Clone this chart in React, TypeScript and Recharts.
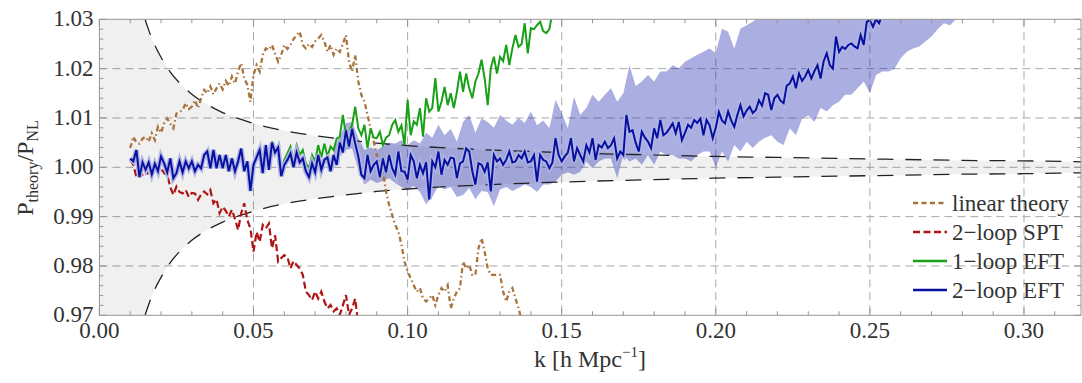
import React from 'react';
import { ComposedChart, Line, Area, XAxis, YAxis, CartesianGrid } from 'recharts';

// ---------- data ----------
const K_STEP = 0.001;

// 2-loop EFT (blue), k = 0.010 ... 0.256
const EFT2_K0 = 0.01;
const eft2Loop = [
  1.0018, 1.0012, 1.0035, 0.998, 1.001, 0.9995, 1.001, 0.9986, 1.0007, 0.9992,
  1.0022, 1.0008, 0.999, 1.0018, 0.9978, 0.9988, 1.0012, 0.999, 1.0012, 0.9998,
  1.0012, 0.9992, 1.0005, 0.9998, 1.0025, 1.0032, 0.9998, 1.0035, 0.9998, 1.0025,
  0.9998, 1.0025, 0.9992, 1.0018, 0.9992, 1.0012, 1.0038, 0.9992, 1.0012, 0.9952,
  1.0005, 1.002, 1.0035, 0.9988, 1.0045, 0.9995, 1.005, 1.003, 1.004, 0.9982,
  1.0005, 1.0015, 1.0028, 1.0, 1.003, 1.001, 1.0018, 0.9992, 0.998, 1.0008,
  0.999, 1.0025, 0.9995, 1.0015, 1.002, 0.9992, 1.0025, 1.0005, 1.005, 1.003,
  1.0075, 1.0042, 1.0078, 1.0048, 1.0022, 0.9985, 0.9978, 1.0025, 0.9992, 1.0005,
  1.0012, 0.998, 1.0018, 0.999, 1.0025, 0.9998, 0.9985, 1.0032, 0.9992, 0.9991,
  0.9975, 1.0025, 1.0012, 0.9978, 1.0005, 0.9988, 1.001, 0.9935, 1.0012, 1.0,
  1.0032, 0.9985, 1.0015, 1.0005, 1.002, 1.0018, 0.9978, 1.0008, 1.0012, 1.0038,
  1.0032, 0.9992, 0.9965, 1.0008, 1.0005, 0.9991, 1.001, 0.9951, 1.0025, 1.0012,
  1.0018, 1.0005, 1.0015, 1.0032, 1.001, 1.0012, 1.0025, 1.0018, 1.0032, 1.001,
  1.0012, 1.0025, 0.9971, 1.0025, 1.0015, 1.0012, 0.9998, 1.001, 1.0059, 1.0025,
  1.0012, 1.0022, 1.003, 1.0059, 1.0012, 1.0039, 1.0025, 1.0012, 1.0045, 1.003,
  1.0059, 1.0015, 1.0045, 1.004, 1.0052, 1.0039, 1.0045, 1.0059, 1.0018, 1.0032,
  1.0025, 1.0106, 1.0072, 1.0075, 1.005, 1.0032, 1.0072, 1.006, 1.0052, 1.0039,
  1.0079, 1.0059, 1.0096, 1.0065, 1.007, 1.0079, 1.0089, 1.0069, 1.0092, 1.0055,
  1.007, 1.0086, 1.008, 1.0096, 1.009, 1.0099, 1.0065, 1.0096, 1.0085, 1.0059,
  1.008, 1.0112, 1.0095, 1.0089, 1.0113, 1.0095, 1.0082, 1.0106, 1.0126, 1.0103,
  1.0115, 1.0123, 1.011, 1.0116, 1.0136, 1.0125, 1.015, 1.0147, 1.0116, 1.014,
  1.0147, 1.0135, 1.013, 1.0165, 1.017, 1.0184, 1.016, 1.019, 1.0175, 1.0184,
  1.0197, 1.018, 1.0195, 1.0207, 1.018, 1.0215, 1.0231, 1.0207, 1.02, 1.0265,
  1.0234, 1.0244, 1.024, 1.0248, 1.0251, 1.0245, 1.0241, 1.0268, 1.0248, 1.0295,
  1.0298, 1.0285, 1.03, 1.0292, 1.031, 1.033, 1.0345,
];

// 1-loop EFT (green), k = 0.054 ... 0.148
const EFT1_K0 = 0.054;
const eft1Loop = [
  1.0045, 0.9998, 1.0052, 1.0033, 1.0045, 0.999, 1.0015, 1.0028, 1.0042, 1.0015,
  1.0045, 1.0025, 1.0035, 1.0008, 0.9998, 1.0025, 1.0012, 1.0045, 1.002, 1.0048,
  1.0022, 1.0042, 1.0035, 1.0058, 1.0062, 1.0106, 1.0065, 1.0072, 1.0086, 1.0123,
  1.0079, 1.0065, 1.0086, 1.0039, 1.0079, 1.006, 1.0059, 1.0072, 1.0045, 1.006,
  1.0065, 1.0086, 1.0096, 1.0072, 1.0085, 1.0045, 1.0137, 1.0065, 1.0093, 1.0086,
  1.012, 1.0062, 1.014, 1.0113, 1.012, 1.0181, 1.0113, 1.0133, 1.0163, 1.0126,
  1.015, 1.012, 1.0153, 1.0194, 1.0153, 1.019, 1.016, 1.014, 1.0174, 1.019,
  1.0218, 1.018, 1.0126, 1.0201, 1.0224, 1.019, 1.0224, 1.0215, 1.0248, 1.0207,
  1.0241, 1.0268, 1.0244, 1.025, 1.0292, 1.0231, 1.0282, 1.028, 1.0288, 1.0295,
  1.0276, 1.0272, 1.028, 1.0315, 1.033,
];

// 2-loop SPT (red), k = 0.010 ... 0.084
const SPT_K0 = 0.01;
const spt2Loop = [
  1.0015, 1.0005, 0.9981, 0.999, 0.9985, 0.9995, 0.9982, 0.9981, 0.9995, 1.0005,
  0.9998, 0.9988, 0.9985, 0.996, 0.9944, 0.9961, 0.995, 0.9947, 0.9954, 0.994,
  0.9948, 0.9947, 0.9934, 0.9945, 0.9951, 0.9945, 0.9954, 0.9927, 0.9935, 0.9907,
  0.992, 0.9912, 0.99, 0.9914, 0.9895, 0.9873, 0.9907, 0.9927, 0.9893, 0.9876,
  0.9829, 0.9869, 0.9849, 0.9883, 0.9876, 0.9886, 0.9836, 0.9862, 0.9809, 0.9816,
  0.9822, 0.9818, 0.9795, 0.981, 0.9802, 0.9795, 0.9782, 0.9748, 0.9741, 0.9731,
  0.9748, 0.9734, 0.9748, 0.9728, 0.9714, 0.9721, 0.9708, 0.9714, 0.9701, 0.972,
  0.9741, 0.9701, 0.9714, 0.9734, 0.968,
];

// linear theory (brown), k = 0.010 ... 0.137
const LIN_K0 = 0.01;
const linearTheory = [
  1.0039, 1.0062, 1.005, 1.0048, 1.0058, 1.0062, 1.0052, 1.0069, 1.0055, 1.0082,
  1.007, 1.0089, 1.0099, 1.0089, 1.0079, 1.0109, 1.0112, 1.0116, 1.013, 1.0118,
  1.0123, 1.0136, 1.012, 1.014, 1.0157, 1.015, 1.0164, 1.0148, 1.016, 1.017,
  1.0158, 1.0175, 1.0165, 1.0184, 1.017, 1.0195, 1.0211, 1.018, 1.0167, 1.0133,
  1.0187, 1.0207, 1.0194, 1.0228, 1.0241, 1.0238, 1.0248, 1.023, 1.0214, 1.0228,
  1.0248, 1.024, 1.0248, 1.026, 1.0268, 1.0275, 1.0248, 1.0241, 1.025, 1.0244,
  1.0255, 1.0261, 1.0268, 1.0255, 1.0234, 1.0248, 1.0228, 1.0241, 1.0234, 1.025,
  1.0268, 1.0214, 1.0194, 1.0228, 1.0174, 1.0147, 1.0133, 1.0106, 1.0079, 1.0052,
  1.0025, 1.0012, 0.9991, 0.9951, 0.9924, 0.9903, 0.9883, 0.987, 0.9843, 0.9809,
  0.9789, 0.9775, 0.9761, 0.9748, 0.9755, 0.9734, 0.9728, 0.9734, 0.9741, 0.9721,
  0.9741, 0.9755, 0.9748, 0.9761, 0.9714, 0.9734, 0.9748, 0.9755, 0.9809, 0.9795,
  0.9802, 0.9782, 0.9782, 0.9836, 0.9856, 0.9829, 0.9795, 0.9782, 0.9782, 0.9782,
  0.9782, 0.9748, 0.9728, 0.9748, 0.9755, 0.9734, 0.9714, 0.969,
];

// 2-loop EFT uncertainty band, k = 0.076 ... 0.280 (step 0.002)
const BAND_K0 = 0.076;
const BAND_STEP = 0.002;
const bandHigh = [
  1.0035, 1.0062, 1.009, 1.0092, 1.006, 1.0035, 1.004, 1.0035, 1.0042, 1.005,
  1.0048, 1.0055, 1.0045, 1.0055, 1.0048, 1.007, 1.006, 1.0086, 1.0065, 1.0078,
  1.0052, 1.0092, 1.0106, 1.007, 1.0099, 1.0092, 1.008, 1.0106, 1.0095, 1.0086,
  1.01, 1.009, 1.0113, 1.0085, 1.0095, 1.0079, 1.0137, 1.011, 1.0079, 1.0143,
  1.0106, 1.012, 1.0147, 1.0133, 1.0147, 1.016, 1.0133, 1.015, 1.0207, 1.0165,
  1.0174, 1.0187, 1.0174, 1.0194, 1.0194, 1.0207, 1.0201, 1.0214, 1.0221, 1.0228,
  1.0234, 1.0241, 1.0231, 1.0281, 1.0275, 1.0241, 1.0281, 1.0288, 1.0295, 1.0305,
  1.032, 1.033, 1.034, 1.035, 1.036, 1.037, 1.038, 1.039, 1.04, 1.041,
  1.042, 1.043, 1.044, 1.045, 1.046, 1.047, 1.048, 1.049, 1.05, 1.051,
  1.052, 1.053, 1.054, 1.055, 1.056, 1.057, 1.058, 1.059, 1.06, 1.061,
  1.062, 1.063, 1.064,
];
const bandLow = [
  1.0, 1.0022, 1.0035, 1.0038, 0.9995, 0.9965, 0.9975, 0.9968, 0.9972, 0.9978,
  0.9968, 0.996, 0.9955, 0.9962, 0.995, 0.9925, 0.994, 0.9962, 0.9955, 0.996,
  0.994, 0.9944, 0.9958, 0.9935, 0.9952, 0.995, 0.9921, 0.9955, 0.996, 0.9952,
  0.9958, 0.9965, 0.996, 0.995, 0.9965, 0.9965, 0.9971, 0.9985, 0.999, 0.9985,
  0.9991, 1.0012, 0.9998, 1.0012, 1.0018, 1.0018, 0.9978, 1.0025, 1.0012, 1.0018,
  1.0005, 1.0025, 1.0005, 1.0032, 1.0025, 1.0025, 1.0018, 1.0018, 1.0012, 1.0025,
  1.0032, 1.0032, 1.0, 1.0032, 1.0012, 1.0045, 1.0032, 1.0052, 1.0039, 1.0052,
  1.006, 1.0065, 1.0052, 1.0045, 1.0079, 1.0065, 1.0099, 1.0105, 1.0092, 1.012,
  1.0113, 1.0126, 1.0133, 1.0147, 1.0147, 1.016, 1.0174, 1.015, 1.0187, 1.0194,
  1.0194, 1.02, 1.0221, 1.0234, 1.0241, 1.0245, 1.0255, 1.0265, 1.028, 1.0292,
  1.0288, 1.03, 1.032,
];

// sample-variance envelope (grey band with dashed edges)
const envK = [0, 0.001, 0.004, 0.007, 0.01, 0.012, 0.014, 0.016, 0.018, 0.02, 0.023, 0.026, 0.03, 0.035, 0.04, 0.045, 0.05, 0.06, 0.07, 0.08, 0.09, 0.1, 0.12, 0.14, 0.16, 0.18, 0.2, 0.22, 0.24, 0.26, 0.28, 0.3, 0.32];
const envUpper = [2.0, 1.4, 1.111, 1.0636, 1.0445, 1.0371, 1.0318, 1.0278, 1.0247, 1.0223, 1.0193, 1.0171, 1.0148, 1.0127, 1.0111, 1.0099, 1.0089, 1.0074, 1.0064, 1.0056, 1.0049, 1.0044, 1.0037, 1.0032, 1.0028, 1.0025, 1.0022, 1.002, 1.0018, 1.0016, 1.0014, 1.0013, 1.0011];
const envLower = [0.0, 0.6, 0.889, 0.9364, 0.9555, 0.9629, 0.9682, 0.9722, 0.9753, 0.9777, 0.9807, 0.9829, 0.9852, 0.9873, 0.9889, 0.9901, 0.9911, 0.9926, 0.9936, 0.9944, 0.9951, 0.9956, 0.9963, 0.9968, 0.9972, 0.9975, 0.9978, 0.998, 0.9982, 0.9984, 0.9986, 0.9987, 0.9989];

// axes
const X_MAX = 0.3185;
const xTicks = [0, 0.01, 0.02, 0.03, 0.04, 0.05, 0.06, 0.07, 0.08, 0.09, 0.1, 0.11, 0.12, 0.13, 0.14, 0.15, 0.16, 0.17, 0.18, 0.19, 0.2, 0.21, 0.22, 0.23, 0.24, 0.25, 0.26, 0.27, 0.28, 0.29, 0.3, 0.31];
const yTicks = [0.97, 0.972, 0.974, 0.976, 0.978, 0.98, 0.982, 0.984, 0.986, 0.988, 0.99, 0.992, 0.994, 0.996, 0.998, 1.0, 1.002, 1.004, 1.006, 1.008, 1.01, 1.012, 1.014, 1.016, 1.018, 1.02, 1.022, 1.024, 1.026, 1.028, 1.03];
const xGrid = [0.05, 0.1, 0.15, 0.2, 0.25, 0.3];
const yGrid = [0.98, 0.99, 1.0, 1.01, 1.02];

const legendItems = [
  { label: 'linear theory', color: '#a8743c', dash: '5 3.5' },
  { label: '2−loop SPT', color: '#b01515', dash: '7 3.5' },
  { label: '1−loop EFT', color: '#18a018', dash: undefined },
  { label: '2−loop EFT', color: '#0810a0', dash: undefined },
];

// ---------- build ----------
const series = (k0: number, step: number, vals: number[]) =>
  vals.map((v, i) => ({ k: +(k0 + i * step).toFixed(4), v }));

const blueData = series(EFT2_K0, K_STEP, eft2Loop);
const greenData = series(EFT1_K0, K_STEP, eft1Loop);
const redData = series(SPT_K0, K_STEP, spt2Loop);
const brownData = series(LIN_K0, K_STEP, linearTheory);
const bandData = bandLow.map((lo, i) => ({ k: +(BAND_K0 + i * BAND_STEP).toFixed(4), range: [lo, bandHigh[i]] }));
const envData = envK.map((k, i) => ({ k, up: envUpper[i], lo: envLower[i], range: [envLower[i], envUpper[i]] }));

const FONT = '"Liberation Serif", "DejaVu Serif", serif';
const TXT = '#333333';
const FRAME = '#959595';
const BROWN = '#a8743c';
const RED = '#b01515';
const GREEN = '#18a018';
const BLUE = '#0810a0';

const isMajorX = (v: number) => Math.abs(v * 20 - Math.round(v * 20)) < 1e-6;
const isMajorY = (v: number) => Math.abs(v * 100 - Math.round(v * 100)) < 1e-6;

const BottomTick = (p: any) => {
  const v = p.payload.value;
  const major = isMajorX(v);
  return (
    <g>
      <line x1={p.x} x2={p.x} y1={p.y} y2={p.y - (major ? 7 : 4)} stroke={FRAME} />
      {major && (
        <text x={p.x} y={p.y + 22.5} textAnchor="middle" fontFamily={FONT} fontSize={23} fill={TXT}>
          {v.toFixed(2)}
        </text>
      )}
    </g>
  );
};
const TopTick = (p: any) => {
  const major = isMajorX(p.payload.value);
  return <line x1={p.x} x2={p.x} y1={p.y} y2={p.y + (major ? 7 : 4)} stroke={FRAME} />;
};
const LeftTick = (p: any) => {
  const v = p.payload.value;
  const major = isMajorY(v);
  return (
    <g>
      <line x1={p.x} x2={p.x + (major ? 7 : 4)} y1={p.y} y2={p.y} stroke={FRAME} />
      {major && (
        <text x={p.x - 6} y={p.y + 7} textAnchor="end" fontFamily={FONT} fontSize={23} fill={TXT}>
          {v.toFixed(2)}
        </text>
      )}
    </g>
  );
};
const RightTick = (p: any) => {
  const major = isMajorY(p.payload.value);
  return <line x1={p.x} x2={p.x - (major ? 7 : 4)} y1={p.y} y2={p.y} stroke={FRAME} />;
};

const legendRowsY = [203, 232, 261, 290];

export default function App() {
  return (
    <div style={{ position: 'absolute', left: 0, top: 0, width: 1082, height: 383, background: '#fff' }}>
      <ComposedChart width={1082} height={383} margin={{ top: 0, right: 0, bottom: 0, left: 0 }}>
        <CartesianGrid
          stroke="#a8a8a8"
          strokeDasharray="8 5"
          verticalValues={xGrid}
          horizontalValues={yGrid}
        />
        <XAxis
          dataKey="k"
          type="number"
          domain={[0, X_MAX]}
          allowDataOverflow
          ticks={xTicks}
          interval={0}
          tick={BottomTick}
          tickLine={false}
          tickSize={0}
          tickMargin={0}
          height={67.7}
          axisLine={{ stroke: FRAME }}
        />
        <XAxis
          xAxisId="top"
          orientation="top"
          dataKey="k"
          type="number"
          domain={[0, X_MAX]}
          allowDataOverflow
          ticks={xTicks}
          interval={0}
          tick={TopTick}
          tickLine={false}
          tickSize={0}
          tickMargin={0}
          height={19.3}
          axisLine={{ stroke: FRAME }}
        />
        <YAxis
          type="number"
          domain={[0.97, 1.03]}
          allowDataOverflow
          ticks={yTicks}
          interval={0}
          tick={LeftTick}
          tickLine={false}
          tickSize={0}
          tickMargin={0}
          width={99.4}
          axisLine={{ stroke: FRAME }}
        />
        <YAxis
          yAxisId="right"
          orientation="right"
          type="number"
          domain={[0.97, 1.03]}
          allowDataOverflow
          ticks={yTicks}
          interval={0}
          tick={RightTick}
          tickLine={false}
          tickSize={0}
          tickMargin={0}
          width={1}
          axisLine={{ stroke: FRAME }}
        />
        <Area
          data={envData}
          dataKey="range"
          type="monotone"
          fill="#000"
          fillOpacity={0.06}
          stroke="none"
          isAnimationActive={false}
        />
        <Area
          data={bandData}
          dataKey="range"
          type="linear"
          fill="#141eaa"
          fillOpacity={0.36}
          stroke="none"
          isAnimationActive={false}
        />
        <Line data={envData} dataKey="up" type="monotone" stroke="#222" strokeWidth={1.3} strokeDasharray="16 12" dot={false} isAnimationActive={false} />
        <Line data={envData} dataKey="lo" type="monotone" stroke="#222" strokeWidth={1.3} strokeDasharray="16 12" dot={false} isAnimationActive={false} />
        <Line data={brownData} dataKey="v" type="linear" stroke={BROWN} strokeWidth={2.3} strokeDasharray="5 3 1.5 3" dot={false} isAnimationActive={false} />
        <Line data={redData} dataKey="v" type="linear" stroke={RED} strokeWidth={2.2} strokeDasharray="7 3.5" dot={false} isAnimationActive={false} />
        <Line data={greenData} dataKey="v" type="linear" stroke={GREEN} strokeWidth={2} dot={false} isAnimationActive={false} />
        <Line data={blueData} dataKey="v" type="linear" stroke="#b0b5e6" strokeWidth={5} dot={false} isAnimationActive={false} />
        <Line data={blueData} dataKey="v" type="linear" stroke={BLUE} strokeWidth={2} dot={false} isAnimationActive={false} />
      </ComposedChart>
      <svg width={1082} height={383} style={{ position: 'absolute', left: 0, top: 0, pointerEvents: 'none' }}>
        <text transform="translate(33,168) rotate(-90)" textAnchor="middle" fontFamily={FONT} fontSize={24} fill={TXT}>
          P<tspan fontSize={16} dy={5}>theory</tspan>
          <tspan dy={-5}>/P</tspan>
          <tspan fontSize={16} dy={5}>NL</tspan>
        </text>
        <text x={590} y={367} textAnchor="middle" fontFamily={FONT} fontSize={24} fill={TXT}>
          k [h Mpc<tspan fontSize={15} dy={-10}>−1</tspan>
          <tspan dy={10}>]</tspan>
        </text>
        {legendItems.map((it, i) => (
          <g key={it.label}>
            <line x1={913} x2={947} y1={legendRowsY[i]} y2={legendRowsY[i]} stroke={it.color} strokeWidth={2.5} strokeDasharray={it.dash} />
            <text x={952} y={legendRowsY[i] + 8} fontFamily={FONT} fontSize={23} fill={TXT}>
              {it.label}
            </text>
          </g>
        ))}
      </svg>
    </div>
  );
}
